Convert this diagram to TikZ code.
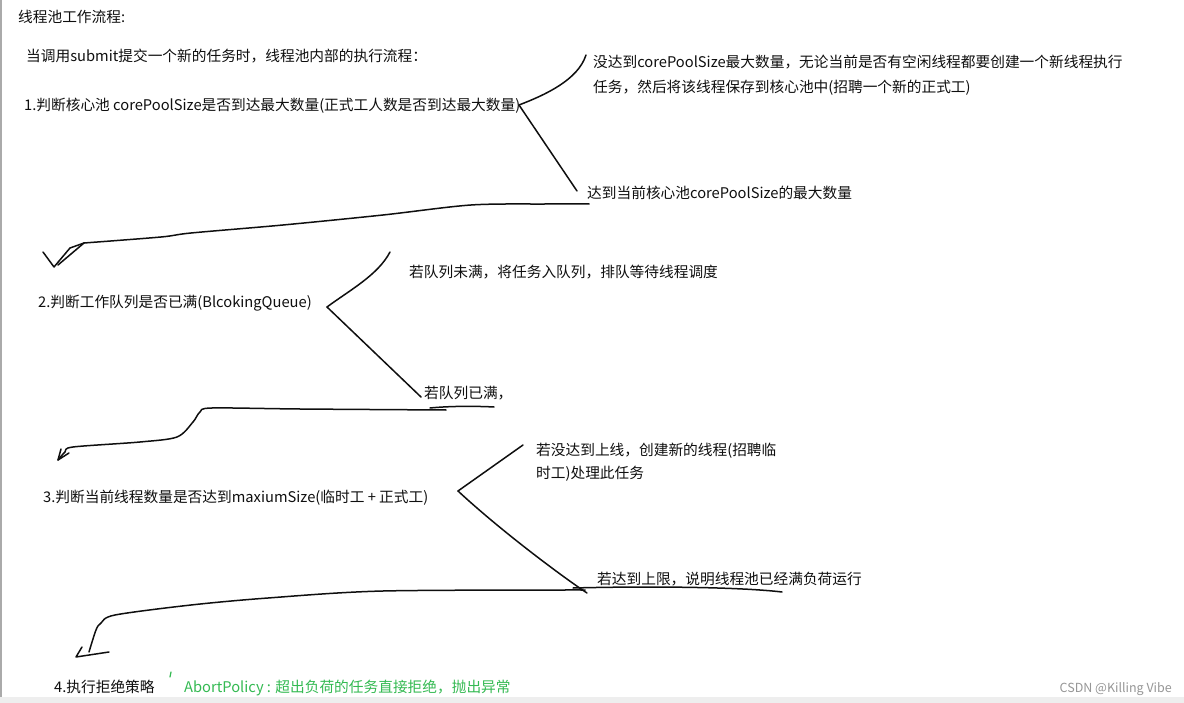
\documentclass[tikz,border=0pt]{standalone}
\usepackage{fontspec}
\setmainfont{Noto Sans CJK SC}
\definecolor{ink}{RGB}{15,15,15}
\definecolor{okgreen}{RGB}{52,186,82}
\definecolor{wmark}{RGB}{150,150,150}
\definecolor{band}{RGB}{238,238,238}
\definecolor{edge}{RGB}{170,170,170}
\tikzset{
  txt/.style={anchor=base west, inner sep=0pt, font=\fontsize{14.7}{17}\selectfont, text=ink},
  pen/.style={draw=ink, line width=1.5pt, line cap=round, line join=round},
}
\begin{document}
\begin{tikzpicture}[x=1pt,y=-1pt]
\useasboundingbox (0,0) rectangle (1184,703);
\fill[white] (0,0) rectangle (1184,703);
\fill[band] (0,697) rectangle (1184,703);
\draw[edge, line width=1.5pt] (1,0) -- (1,697);

% texts
\node[txt] (title) at (18,22.5) {线程池工作流程:};
\node[txt] (intro) at (26,61.5) {当调用submit提交一个新的任务时，线程池内部的执行流程：};
\node[txt] (q1) at (24,110.5) {1.判断核心池 corePoolSize是否到达最大数量(正式工人数是否到达最大数量)};
\node[txt] (a1) at (593,67.5) {没达到corePoolSize最大数量，无论当前是否有空闲线程都要创建一个新线程执行};
\node[txt] (a1b) at (593,92.5) {任务，然后将该线程保存到核心池中(招聘一个新的正式工)};
\node[txt] (b1) at (587,198.5) {达到当前核心池corePoolSize的最大数量};
\node[txt] (q2) at (38,307.5) {2.判断工作队列是否已满(BlcokingQueue)};
\node[txt] (a2) at (409,277.5) {若队列未满，将任务入队列，排队等待线程调度};
\node[txt] (b2) at (424,398.5) {若队列已满，};
\node[txt] (q3) at (43,502.5) {3.判断当前线程数量是否达到maxiumSize(临时工 + 正式工)};
\node[txt] (a3) at (536,455.5) {若没达到上线，创建新的线程(招聘临};
\node[txt] (a3b) at (536,478.5) {时工)处理此任务};
\node[txt] (b3) at (597,584.5) {若达到上限，说明线程池已经满负荷运行};
\node[txt] (q4) at (54,692.5) {4.执行拒绝策略};
\node[txt, text=okgreen] (pol) at (184,692.5) {AbortPolicy : 超出负荷的任务直接拒绝，抛出异常};
\node[anchor=base east, inner sep=0pt, font=\fontsize{12.5}{15}\selectfont, text=wmark] (wm) at (1172,692.5) {CSDN @Killing Vibe};

% branch points
\coordinate (p1) at (519,105);
\coordinate (p2) at (327,307);
\coordinate (p3) at (458,491);

% branch 1
\draw[pen] (p1) .. controls (545,95) and (578,80) .. (586,55);
\draw[pen] (p1) -- (577,191);
% branch 2
\draw[pen] (p2) .. controls (350,290) and (378,275) .. (390,252);
\draw[pen] (p2) -- (421,397);
% branch 3
\draw[pen] (p3) -- (523,445);
\draw[pen] (p3) .. controls (500,530) and (560,575) .. (587,593);

% underlines
\draw[pen] (430,408) .. controls (450,406) and (475,406) .. (494,407);
\draw[pen] (573,588) .. controls (650,586) and (740,587) .. (782,592);

% return curves
\draw[pen] plot[smooth, tension=0.5] coordinates {(589,204) (545,204) (471,205) (383,215) (283,225) (191,233) (161,237) (84,243)};
\draw[pen] (84,243) -- (70,248) -- (54,267) -- (43,252);
\draw[pen] (84,243) -- (58,265);

\draw[pen] plot[smooth, tension=0.5] coordinates {(446,410) (300,409) (212,408) (200,412) (193,422) (177,437) (140,442) (73,447) (65,452) (58,460)};
\draw[pen] (61,449) -- (58,460) -- (69,453);

\draw[pen] plot[smooth, tension=0.5] coordinates {(585,590) (383,591) (268,598) (191,605) (115,615) (101,623) (96,630) (89,652)};
\draw[pen] (82,647) -- (76,657) -- (109,652);

% green tick
\draw[okgreen, line width=1.2pt, line cap=round] (171,672) -- (170,677);
\end{tikzpicture}
\end{document}
